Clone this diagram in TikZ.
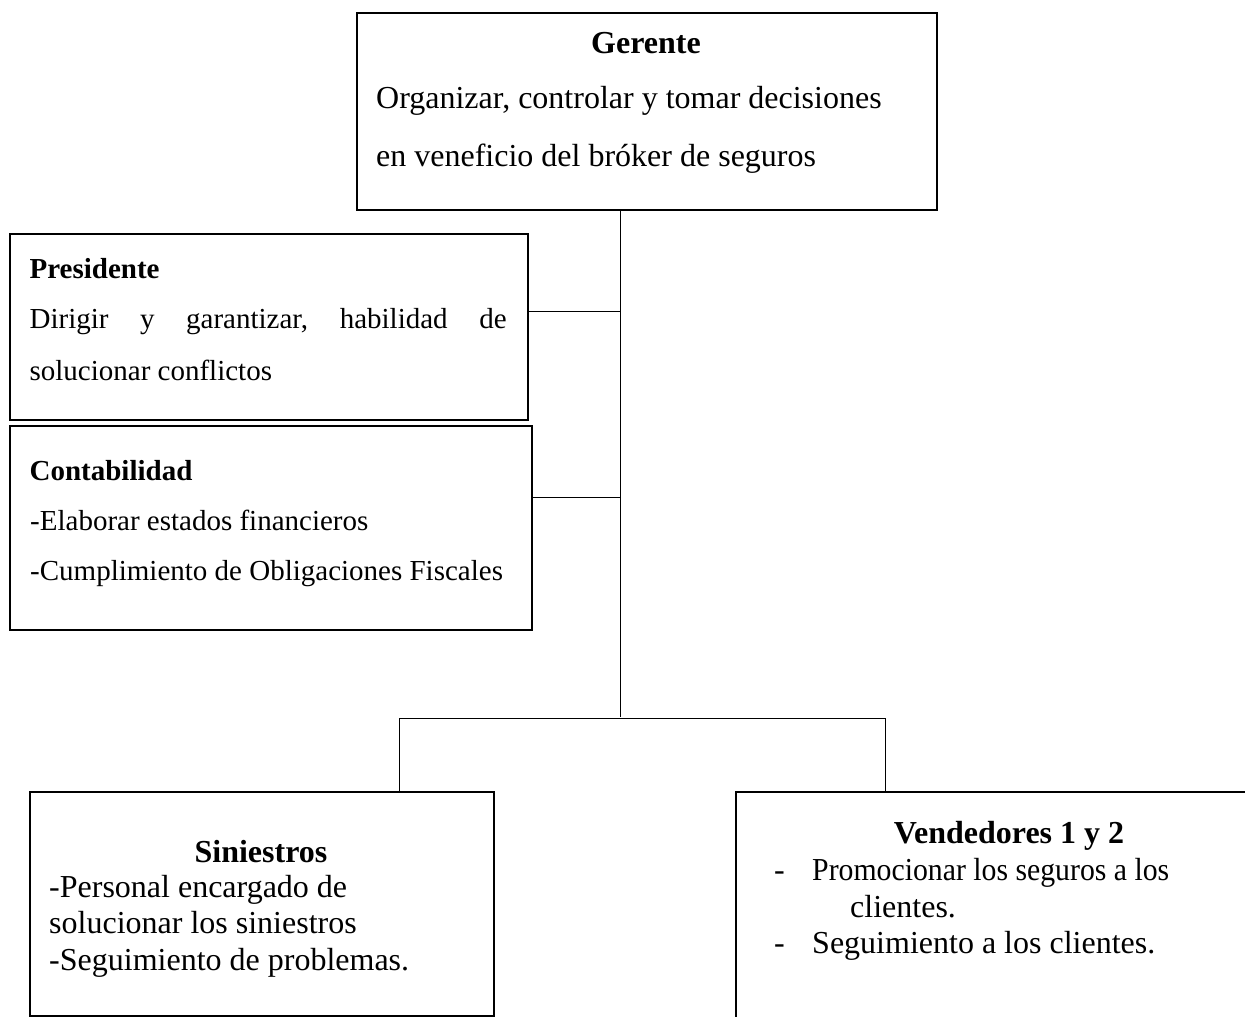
\documentclass[tikz,border=0pt]{standalone}
\usepackage{fontspec}
\setmainfont{Liberation Serif}
\newcommand{\gfont}{\fontsize{32}{38}\selectfont}
\newcommand{\lfont}{\fontsize{29}{35}\selectfont}
\begin{document}
\begin{tikzpicture}[x=1pt,y=-1pt,
  box/.style={draw, line width=2.3pt, inner sep=0pt, anchor=north west},
  conn/.style={line width=1pt},
  txt/.style={inner sep=0pt, anchor=base west},
  gtxt/.style={txt, font=\gfont},
  ltxt/.style={txt, font=\lfont}]
\useasboundingbox (0,0) rectangle (1245,1017);
% boxes
\node[box, minimum width=579.5pt, minimum height=197.5pt] (ger) at (356,11.5) {};
\node[box, minimum width=518pt, minimum height=186pt] (pre) at (9,233) {};
\node[box, minimum width=522pt, minimum height=204pt] (con) at (9,425) {};
\node[box, minimum width=463.5pt, minimum height=224pt] (sin) at (29,791) {};
\node[box, minimum width=540pt, minimum height=260pt] (ven) at (735,791) {};
% texts
\node[gtxt, anchor=base, font=\gfont\bfseries] (gt) at (646,53) {Gerente};
\node[gtxt] (gl1) at (376,108) {Organizar, controlar y tomar decisiones};
\node[gtxt] (gl2) at (376,166) {en veneficio del bróker de seguros};
\node[ltxt, font=\lfont\bfseries] (pt) at (29.4,278) {Presidente};
\node[ltxt] (pl1) at (29.4,328) {\makebox[477pt][s]{Dirigir\hfill y\hfill garantizar,\hfill habilidad\hfill de}};
\node[ltxt] (pl2) at (29.4,380) {solucionar conflictos};
\node[ltxt, font=\lfont\bfseries] (ct) at (29.4,480) {Contabilidad};
\node[ltxt] (cl1) at (30,530) {-Elaborar estados financieros};
\node[ltxt] (cl2) at (30,580) {-Cumplimiento de Obligaciones Fiscales};
\node[gtxt, anchor=base, font=\gfont\bfseries] (st) at (261,862) {Siniestros};
\node[gtxt] (sl1) at (49,897) {-Personal encargado de};
\node[gtxt] (sl2) at (49,933) {solucionar los siniestros};
\node[gtxt] (sl3) at (49,970) {-Seguimiento de problemas.};
\node[gtxt, anchor=base, font=\gfont\bfseries] (vt) at (1009,843) {Vendedores 1 y 2};
\node[gtxt] (vd1) at (774,880) {-};
\node[gtxt] (vl1) at (812,880) {\scalebox{0.93}[1]{Promocionar los seguros a los}};
\node[gtxt] (vl2) at (850,917) {clientes.};
\node[gtxt] (vd2) at (774,953) {-};
\node[gtxt] (vl3) at (812,953) {Seguimiento a los clientes.};
% connectors
\coordinate (tr) at (620,717);
\coordinate (pj) at (620,311);
\coordinate (cj) at (620,497);
\coordinate (bl) at (399,718);
\coordinate (br) at (885,718);
\draw[conn] (ger.south -| tr) -- (tr);
\draw[conn] (pj -| pre.east) -- (pj);
\draw[conn] (cj -| con.east) -- (cj);
\draw[conn] (bl) -- (br);
\draw[conn] (bl) -- (bl |- sin.north);
\draw[conn] (br) -- (br |- ven.north);
\end{tikzpicture}
\end{document}
